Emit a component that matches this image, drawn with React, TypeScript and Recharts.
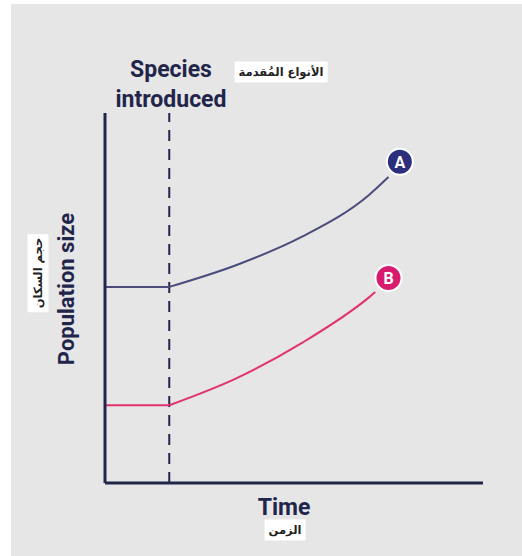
import { LineChart, Line, XAxis, YAxis, ReferenceLine, ReferenceDot } from 'recharts';

// time (0..100) and population size (0..100)
const introducedAt = 17;

const flatTimes = [0, 17];
const aFlatValues = [53, 53];
const bFlatValues = [21, 21];

const aTimes = [17, 35, 52, 70, 75];
const aValues = [53, 59, 66.5, 78, 82.7];

const bTimes = [17, 35, 52, 70, 71.5];
const bValues = [21, 28.4, 37.8, 50.3, 51.6];

const markers = [
  { label: 'A', t: 78, v: 86.8, color: '#2b2f7c' },
  { label: 'B', t: 75, v: 55.4, color: '#d81b6e' },
];

const INK = '#22254a';
const LINE_A = '#4a4d7c';
const LINE_B = '#e0336f';

const toPoints = (ts: number[], vs: number[]) => ts.map((t, i) => ({ t, v: vs[i] }));

const arabicBox: React.CSSProperties = {
  position: 'absolute',
  background: '#fff',
  fontFamily: '"DejaVu Sans", sans-serif',
  fontWeight: 700,
  fontSize: 11.5,
  color: '#222',
  lineHeight: '21px',
  padding: '0 4px',
  whiteSpace: 'nowrap',
  direction: 'rtl',
};

export default function App() {
  return (
    <div style={{ position: 'absolute', left: 0, top: 0, width: 522, height: 556, background: '#fff', overflow: 'hidden' }}>
      <div style={{ position: 'absolute', left: 11, top: 4, width: 511, height: 552, background: '#e6e6e6' }} />
      <div style={{ position: 'absolute', left: 0, top: 0 }}>
        <LineChart width={522} height={556} margin={{ top: 113, right: 39, bottom: 72, left: 104 }}>
          <XAxis
            type="number"
            dataKey="t"
            domain={[0, 100]}
            height={1}
            tick={false}
            tickLine={false}
            axisLine={{ stroke: INK, strokeWidth: 3 }}
            allowDuplicatedCategory={false}
          />
          <YAxis
            type="number"
            dataKey="v"
            domain={[0, 100]}
            width={1}
            tick={false}
            tickLine={false}
            axisLine={{ stroke: INK, strokeWidth: 3 }}
          />
          <ReferenceLine x={introducedAt} stroke={INK} strokeWidth={2} strokeDasharray="11 8" />
          <Line data={toPoints(flatTimes, aFlatValues)} dataKey="v" type="linear" stroke={LINE_A} strokeWidth={2} dot={false} isAnimationActive={false} />
          <Line data={toPoints(aTimes, aValues)} dataKey="v" type="monotone" stroke={LINE_A} strokeWidth={2} dot={false} isAnimationActive={false} />
          <Line data={toPoints(flatTimes, bFlatValues)} dataKey="v" type="linear" stroke={LINE_B} strokeWidth={2} dot={false} isAnimationActive={false} />
          <Line data={toPoints(bTimes, bValues)} dataKey="v" type="monotone" stroke={LINE_B} strokeWidth={2} dot={false} isAnimationActive={false} />
          {markers.map((m) => (
            <ReferenceDot
              key={m.label}
              x={m.t}
              y={m.v}
              r={13}
              fill={m.color}
              stroke="#fff"
              strokeWidth={2}
              label={{ value: m.label, position: 'center', fill: '#fff', fontSize: 16, fontWeight: 700, fontFamily: 'Roboto' }}
            />
          ))}
        </LineChart>
      </div>
      <svg width={522} height={556} style={{ position: 'absolute', left: 0, top: 0 }}>
        <g fontFamily="Roboto, sans-serif" fontWeight={700} fill={INK} textAnchor="middle">
          <text x={171} y={77} fontSize={23}>Species</text>
          <text x={171} y={107} fontSize={23}>introduced</text>
          <text x={284} y={515} fontSize={23}>Time</text>
          <text x={74} y={289} fontSize={22} transform="rotate(-90 74 289)">Population size</text>
        </g>
      </svg>
      <div style={{ ...arabicBox, left: 281, top: 72, transform: 'translate(-50%, -50%)' }}>الأنواع المُقدمة</div>
      <div style={{ ...arabicBox, left: 38, top: 273, transform: 'translate(-50%, -50%) rotate(-90deg)' }}>حجم السكان</div>
      <div style={{ ...arabicBox, left: 285, top: 530, transform: 'translate(-50%, -50%)' }}>الزمن</div>
    </div>
  );
}
